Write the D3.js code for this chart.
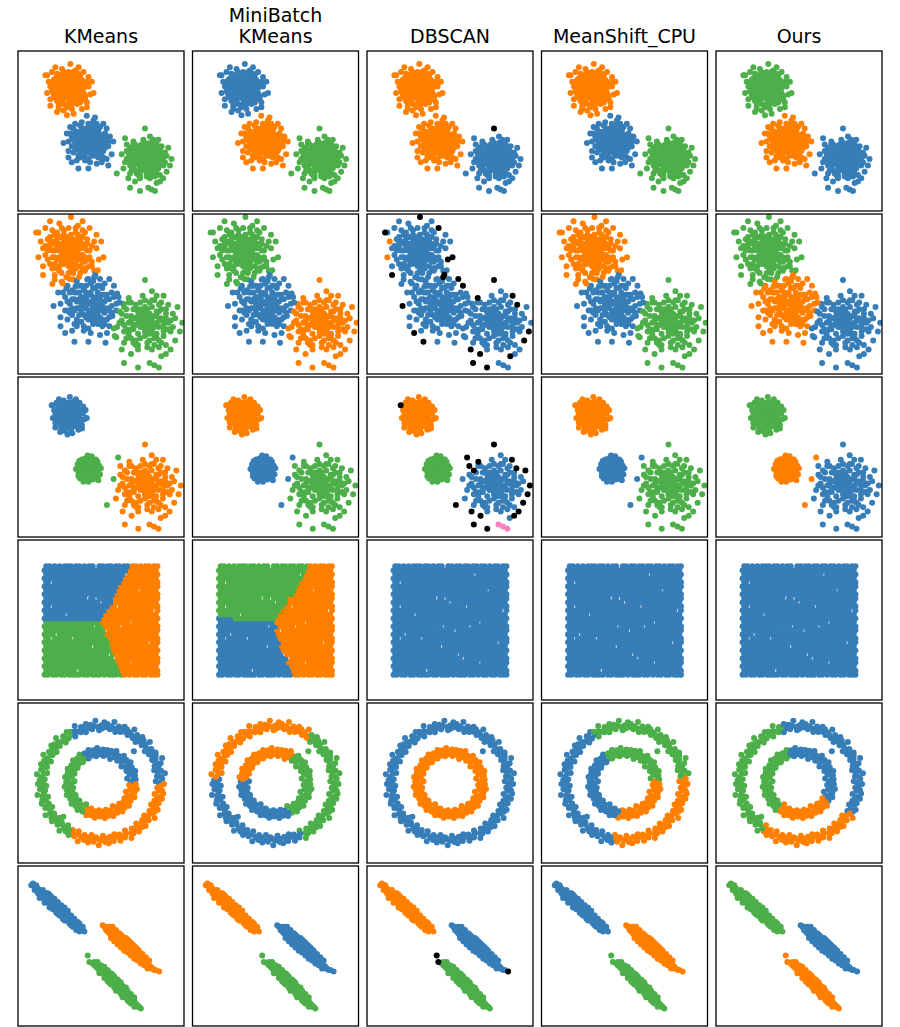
<!DOCTYPE html>
<html>
<head>
<meta charset="utf-8">
<style>
  body { margin: 0; background: #fff; }
  .title { font-family: "DejaVu Sans", sans-serif; font-size: 19px; fill: #000; }
  .frame { fill: none; stroke: #000; stroke-width: 1.3; }
</style>
</head>
<body>
<svg width="900" height="1027"></svg>
<script src="https://cdn.jsdelivr.net/npm/d3@7"></script>
<script>
// colours used by the clusterings
var palette = {b: "#377eb8", o: "#ff7f00", g: "#4daf4a", p: "#f781bf", k: "#000000"};

var titles = [["KMeans"], ["MiniBatch", "KMeans"], ["DBSCAN"], ["MeanShift_CPU"], ["Ours"]];

// three gaussian blobs (rows 1-3 share the centres, spread changes per row)
var blobCentres = [[30.5, 75.8], [42.4, 42.5], [76.5, 33.5]];
var blobScale = [[1, 1, 1], [1.4, 1.4, 1.4], [0.73, 0.5, 1.35]];

// offsets from the blob centre; optional string = DBSCAN label in row 1/2/3
var blobA = [
  [0,0],[2,1],[-2,2],[1,-3],[-3,-1],[4,3],[-4,4],[3,-5],[-1,5],[5,-1],[-5,-3],[0,-6],[6,2],[-6,1],[2,6],[-2,-5],[4,-3],[-4,-6],[1,3],[-1,-2],[3,0],[-3,3],[5,5],[-5,6],[0,3],
  [1,-1],[-1,1],[2,-2],[-2,-1],[3,2],[-3,-4],[1,5],[4,-1],[-4,1],[2,3],
  [1,2],[-1,4],[3,-1],[-2,-3],[2,-4],[-3,0],[4,1],[-4,-2],[0,-4],[1,-5],[-2,5],[3,4],[-5,2],[5,-3],[-1,-4],[2,5],[-4,-3],[6,-1],[-6,-2],[0,7],[-6,4],[6,4],[3,-7],[-3,7],[7,2],[-7,1],[1,-8],[-1,7],[5,-6],[-5,-6],[8,-3],[-8,2],[4,6],[-4,7],[7,-2],[-7,5],[2,-7],[-2,8],[6,-4],[-6,-5],[9,1],[-9,-3],[5,7],[-5,-7],[8,4],[-8,7],[3,11],[-3,11],[10,-6],[-10,3],[11,5],[-11,2],[0,11],[-1,-11],[6,10],[-6,-10],
  [7,-4],[-7,-2],[8,1],[-8,4],[6,7],[-6,8],[3,9],[-3,-9],[7,-8],[-7,-7],[9,-2],[-9,1],[2,-9],[-2,10],[8,6],[-8,-5],[5,-9],[-5,9],[10,3],[-10,-1],[1,8],[4,8],[-4,-8],[9,-6],[-9,6],[6,-7],[0,-9],[7,9],[-7,10],[10,-4],
  [12,2],[-12,5,".o."],[11,-8],[-11,-6],[4,12],[-4,13],[2,-12],[-3,-13],[13,-3,".k."],[-13,9],[9,11,".k."],[-10,11],[12,8],[-11,-10,".k."],[8,-12],[-6,-12],[15,-2,".k."],[-14,9,".kk"],[1,16,".k."],[-1,-16],[6,14],[-8,14],[14,5],[11,-11,".k."],[-13,-2,".o."],[3,-15],[-7,-14]
];
var blobB = [
  [1,1],[-1,-1],[3,-2],[-3,1],[2,4],[-2,-4],[5,1],[-5,-1],[0,5],[0,-3],[4,4],[-4,3],[3,-5],[-4,-4],[6,-2],[-6,3],[1,-6],[-1,6],[2,-1],[-2,2],[4,-1],[-3,-2],[6,5],[-5,6],[5,-5],[0,1],[2,2],[-1,3],[1,-2],[-2,0],
  [0,2],[2,0],[-2,1],[1,-4],[-1,-5],[3,3],[-3,4],[4,-3],[-4,-1],[3,1],[-1,4],[2,-3],[-3,-3],[5,3],[-5,2],[0,-6],[1,6],[6,0],[-6,-2],[4,6],[-4,6],[5,-7],[-5,-6],[7,2],[-7,3],[2,-8],[-2,7],[7,-3],[-7,-1],[3,-6],[-3,-7],[8,5],[-8,-3],[6,-6],[-6,6],[9,-2],[-9,2],[4,9],[-4,9],[2,11],[-2,-11],[10,-3],[-10,-2],[11,4],[-11,6],[7,10],[-7,-11],[9,-9],[-9,9],[12,1],[-12,1],[5,12],[-5,11],[0,12],[1,-12],
  [8,-1],[-8,1],[7,5],[-7,-4],[2,8],[-3,9],[4,-8],[-2,-9],[9,3],[-9,-2],[8,-6],[-7,7],[6,8],[-6,-8],[10,0],[-10,4],[1,10],[0,-10],[9,-5],[-8,6],[5,9],[-5,-9],[7,-8],[10,6],[-9,-6],[3,8],[-4,-7],[8,3],[-1,9],[6,-9],
  [12,-2],[-11,10],[-15,0,".k."],[13,4],[-12,-5],[3,14,".k."],[-1,17],[-6,-16,".k."],[0,-16],[12,-14],[11,9,".k."],[-10,-12,".k."],[14,-7],[-13,6],[5,-13],[-4,13],[9,12,".k."],[8,-12],[-8,12],[15,1],[-12,-9],[11,-10],[4,16]
];
var blobC = [
  [0,0],[2,-1],[-2,1],[1,3],[-1,-3],[4,2],[-4,-2],[3,-4],[-3,4],[5,-1],[-5,1],[0,-5],[1,5],[5,4],[-5,-4],[3,1],[-2,-2],[4,-6],[-4,5],[6,0],[-6,0],[2,-6],[-1,4],[0,2],[2,3],[1,-2],[-3,-1],[3,-2],[-2,3],[0,-3],
  [1,1],[-1,-1],[2,2],[-2,-3],[3,-1],[-3,2],[1,-4],[-1,3],[4,-3],[-4,1],[5,2],[-5,-2],[2,-5],[-2,5],[6,-3],[-6,2],[3,6],[-3,-6],[0,6],[0,-7],[7,1],[-7,-1],[5,-6],[-5,5],[6,4],[-6,-4],[4,-8],[-4,7],[8,-1],[-8,-4],[2,8],[-2,-8],[8,-5],[-8,5],[6,-9],[-6,-8],[9,3],[-9,-5],[4,9],[-4,-11],[10,-1],[-10,0],[1,-12],[-1,11],[11,-5],[-11,4],[7,8],[-7,8],[9,-11],[-9,-10],[12,-3],[-12,-3],[3,-13],[-3,-13],[13,1],[5,11],
  [8,-3],[-8,2],[7,5],[-7,-6],[3,9],[-2,8],[5,-8],[-4,-9],[9,1],[-9,-2],[8,-7],[-6,8],[6,7],[7,-10],[10,-4],[-10,3],[1,-10],[0,9],[-8,-8],[9,5],[-9,6,"..k"],[4,-11],[-3,-11],[11,0],[-11,-1],[6,-12],[-7,10,".kk"],[10,7,".kk"],[2,-9],[-5,-10],
  [0,18,"kkk"],[-17,-10,"..k"],[-9,-19,".kk"],[-3,-21,".kk"],[4,-20,"..p"],[2,-19,"..p"],[6,-21,"..p"],[15,-5,".kk"],[-12,12,"..k"],[13,-9,".kk"],[-13,-7],[12,3],[14,6,"..k"],[8,11,".kk"],[-11,8,"..k"],[9,-15,"..k"],[-14,2],[11,-13,"..k"],[-6,-15,".kk"],[16,-1,"..k"],[3,13],[-10,-13,".kk"],[7,-16,".k."]
];

// uniform square: [y, [x ...]]
var squareRows = [
  [15.8, [16,18,21,23,26,28,31,33,35,37,40,42,45,47,49,52,55,57,59,62,64,67,70,72,75,77,80,82,84]],
  [18.3, [17,19,22,24,27,30,32,34,38,41,43,46,48,51,53,56,58,61,63,66,68,71,73,76,79,81,84]],
  [21.1, [16,19,21,24,26,29,31,33,36,39,41,44,46,49,52,54,57,60,62,65,67,69,72,74,77,80,83]],
  [23.4, [17,20,22,25,28,30,32,35,37,40,43,45,48,50,53,55,58,59,61,64,66,70,73,75,78,81,84]],
  [26.0, [16,18,20,23,26,29,31,34,36,38,41,44,47,49,51,54,56,60,63,65,68,71,74,76,79,82,84]],
  [28.6, [17,19,22,25,27,30,33,35,38,40,42,45,48,50,53,57,59,62,64,67,69,72,75,78,80,83]],
  [31.0, [16,18,21,24,26,28,31,34,37,39,42,44,46,49,52,55,58,60,61,64,66,69,71,73,76,79,81,84]],
  [33.4, [17,20,23,25,28,30,33,36,38,41,43,47,50,52,54,57,59,62,65,67,70,73,75,78,80,83]],
  [36.1, [16,19,21,23,26,29,32,34,36,39,42,45,47,49,52,55,57,60,63,65,68,70,72,75,77,81,84]],
  [38.5, [17,18,22,24,27,30,31,35,38,40,43,45,48,51,53,56,58,61,64,66,69,72,74,76,79,82,84]],
  [41.0, [16,19,21,25,28,29,32,34,37,40,42,44,47,50,52,54,57,59,62,65,67,70,73,75,78,80,83]],
  [43.6, [17,20,23,26,27,30,33,36,39,41,43,46,49,51,55,56,59,61,63,66,69,72,74,77,80,82,84]],
  [45.9, [16,18,21,24,26,29,31,34,37,38,41,44,48,50,53,55,58,60,64,67,68,71,73,76,79,81,84]],
  [48.4, [17,20,22,25,28,31,33,35,38,41,43,46,48,51,54,57,59,62,64,66,70,72,75,77,80,83]],
  [51.0, [16,18,21,23,26,28,30,33,36,39,42,44,47,49,52,55,57,60,62,65,68,71,74,76,79,81,84]],
  [53.5, [17,20,22,25,27,31,34,36,38,40,43,46,48,51,53,56,59,61,64,67,69,72,75,78,80,83]],
  [55.9, [16,19,21,24,26,29,32,34,37,39,42,45,47,50,52,55,58,60,63,65,67,70,73,75,77,80,84]],
  [58.6, [17,18,22,24,27,30,33,35,38,41,44,46,49,51,54,57,58,62,64,67,69,71,74,76,79,82,84]],
  [61.0, [16,19,21,23,26,28,31,34,36,39,42,43,46,48,52,54,56,59,61,63,66,69,72,75,78,80,83]],
  [63.4, [17,20,23,25,28,30,32,35,37,40,44,45,49,51,53,56,59,62,64,67,70,72,74,77,79,82,84]],
  [66.1, [16,18,21,24,27,29,31,34,37,39,41,44,47,49,52,55,57,60,63,65,68,70,73,76,78,81,84]],
  [68.5, [17,20,22,25,27,30,33,36,38,40,43,46,48,51,54,56,59,61,64,66,69,71,75,77,80,83]],
  [71.0, [16,19,21,24,26,28,31,34,36,39,42,44,47,50,52,54,57,60,62,65,67,70,73,75,78,81,84]],
  [73.6, [17,18,22,25,28,30,33,35,37,40,43,46,48,51,53,56,58,61,64,66,69,72,74,77,79,82,84]],
  [75.9, [16,19,21,23,26,29,32,34,37,39,41,44,46,49,52,55,57,59,62,65,68,70,73,76,78,80,83]],
  [78.4, [17,20,22,25,27,30,33,36,38,41,43,45,48,51,53,56,58,61,63,67,69,72,74,77,80,82,84]],
  [81.0, [16,18,21,24,26,29,31,34,37,39,42,44,47,50,52,54,57,60,62,65,68,70,72,75,78,81,83]],
  [83.6, [17,19,22,25,28,30,32,35,37,40,43,45,49,51,54,56,59,61,64,66,69,71,74,77,79,82,84]]
];

// two noisy circles: [angle in degrees clockwise from top, radius]
var ringCentre = [50, 50];
var outerRing = [
  [0,36],[1,34],[3,38],[5,35],[6,37],[9,34],[10,36],[12,39],[14,35],[15,33],[17,37],[19,36],[20,34],[22,38],[24,35],[25,37],[28,34],[29,36],[31,39],[32,35],[34,34],[36,37],[38,36],[39,33],[41,38],[43,35],[45,28],[44,37],[46,34],[48,36],[49,39],[51,35],[53,33],[55,37],[56,36],[58,34],[60,38],[61,35],[63,37],[65,34],[67,40],[66,36],[69,35],[71,38],[72,34],[74,36],[76,33],[78,37],[79,35],[81,39],[83,34],[84,36],[86,37],[88,33],[90,35],[91,38],[93,36],[95,34],[97,37],[98,35],[100,38],[102,33],[104,36],[105,38],[107,35],[109,34],[110,37],[112,36],[114,33],[116,38],[117,35],[119,37],[121,34],[122,36],[124,39],[126,35],[128,33],[129,37],[131,36],[133,34],[135,38],[136,35],[138,37],[140,33],[141,36],[143,38],[145,35],[147,34],[148,37],[150,36],[152,39],[154,33],[155,35],[157,37],[159,36],[161,34],[162,38],[164,35],[166,33],[168,37],[169,36],[171,34],[173,38],[175,35],[176,37],[178,33],[180,36],[182,39],[183,35],[185,34],[187,37],[189,36],[190,33],[192,38],[194,35],[196,37],[197,34],[199,36],[201,39],[203,35],[204,33],[206,37],[208,36],[210,34],[211,38],[213,35],[215,37],[217,33],[218,36],[220,39],[222,35],[224,34],[225,37],[227,31],[227,36],[229,33],[231,38],[232,35],[234,37],[236,34],[238,36],[239,39],[241,35],[243,33],[245,37],[246,36],[248,34],[250,38],[252,35],[253,37],[255,33],[257,36],[259,39],[260,35],[262,34],[264,37],[266,36],[267,33],[269,38],[271,35],[273,37],[274,34],[276,36],[278,39],[280,35],[281,33],[283,37],[285,36],[287,34],[288,38],[290,35],[292,37],[294,33],[295,36],[297,39],[299,35],[301,34],[302,37],[304,36],[306,33],[308,38],[309,35],[311,37],[313,34],[315,36],[316,39],[318,35],[320,33],[322,37],[323,36],[325,34],[327,38],[329,35],[330,37],[332,33],[334,36],[336,39],[337,35],[339,34],[341,37],[343,36],[344,33],[346,38],[348,35],[350,37],[351,34],[353,36],[355,39],[357,35],[358,33]
];
var innerRing = [
  [0,19],[3,21],[5,17],[8,20],[10,21],[12,18],[15,19],[17,21],[20,16],[22,20],[25,22],[27,18],[29,19],[32,20],[35,17],[37,20],[39,22],[42,18],[44,19],[47,21],[50,16],[52,20],[54,22],[57,18],[60,19],[62,21],[64,17],[67,20],[70,22],[72,18],[74,19],[77,21],[80,16],[82,20],[84,21],[87,18],[90,19],[92,21],[94,17],[97,20],[100,22],[102,18],[104,19],[107,21],[110,16],[112,20],[114,22],[117,18],[120,19],[122,21],[124,17],[127,20],[130,22],[132,18],[134,19],[137,21],[140,17],[142,20],[144,22],[147,18],[150,19],[152,21],[154,16],[157,20],[160,22],[162,18],[164,19],[167,21],[170,17],[172,20],[174,22],[177,18],[180,19],[182,21],[184,17],[187,20],[190,22],[192,18],[194,19],[197,21],[200,17],[202,20],[204,22],[207,18],[210,19],[212,21],[214,16],[217,20],[220,22],[222,18],[224,19],[227,21],[230,17],[232,20],[234,22],[237,18],[240,19],[242,21],[244,17],[247,20],[250,22],[252,18],[254,19],[257,21],[260,17],[262,20],[264,22],[267,18],[270,19],[272,21],[274,16],[277,20],[280,22],[282,18],[284,19],[287,21],[290,17],[292,20],[294,22],[297,18],[300,19],[302,21],[304,17],[307,20],[310,22],[312,18],[314,19],[317,21],[320,17],[322,20],[324,22],[327,18],[330,19],[332,21],[334,17],[337,20],[340,22],[342,18],[344,19],[347,21],[350,17],[352,20],[354,22],[357,18]
];

// three stretched clusters; "k" = DBSCAN noise
var anisoTop = [
  [8,88],[9,89],[10,87],[10,85],[11,86],[12,86],[12,83],[13,85],[13,82],[14,84],[14,81],[15,83],[15,80],[16,82],[16,79],[17,81],[17,78],[17,83],[18,80],[18,77],[19,79],[19,82],[19,76],[20,78],[20,80],[21,77],[21,75],[21,79],[22,76],[22,74],[22,78],[23,75],[23,73],[23,77],[24,74],[24,72],[24,76],[25,73],[25,71],[25,75],[26,72],[26,70],[26,74],[27,71],[27,69],[27,73],[28,70],[28,68],[28,72],[29,69],[29,71],[30,68],[30,66],[30,70],[31,67],[31,69],[32,66],[32,65],[33,65],[33,67],[34,64],[34,63],[35,64],[35,62],[36,63],[36,61],[37,62],[38,61],[38,60],[39,60],[40,59],
  [11,88],[13,80],[15,85],[16,77],[18,83],[19,74],[20,81],[21,73],[22,79.5],[23,71],[24,77.5],[25,69],[26,75.5],[27,67],[28,74],[29,66],[30,72],[31,64],[32,69],[33,62],[34,67],[35,60],[36,65],[37,59],[37,64],[39,62],[20,75],[24,70],[28,66],[32,63]
];
var anisoRight = [
  [51,63],[52,62],[53,62],[53,60],[54,61],[54,59],[55,60],[55,58],[56,59],[56,57],[57,60],[57,58],[57,56],[58,57],[58,55],[58,59],[59,56],[59,54],[59,58],[60,55],[60,57],[60,53],[61,54],[61,56],[61,52],[62,53],[62,55],[62,51],[63,52],[63,54],[63,50],[64,51],[64,53],[64,49],[65,50],[65,52],[65,48],[66,50],[66,48],[66,52],[67,49],[67,47],[67,51],[68,48],[68,46],[68,50],[69,47],[69,45],[69,49],[70,46],[70,44],[70,48],[71,45],[71,43],[71,47],[72,44],[72,42],[72,46],[73,44],[73,42],[74,43],[74,41],[75,42],[75,40],[76,41],[76,39],[77,40],[77,38],[78,39],[78,37],[79,38],[80,37],[80,36],[81,36],[82,35],[83,35],[85,34,"k"],
  [55,62],[56,55],[57,62],[58,53],[59,60],[60,51],[61,58],[62,49],[63,56],[64,47],[65,55],[66,46],[67,53],[68,44],[69,51],[70,42],[71,49],[72,41],[73,47],[74,39],[75,45],[76,38],[77,43],[78,36],[79,41],[62,57],[66,54],[70,50],[64,55],[68,52],[72,48],[60,52]
];
var anisoBottom = [
  [42,44,"k"],[43,40,"k"],[45,39],[46,38],[46,40],[47,37],[47,39],[48,36],[48,38],[49,37],[49,35],[50,36],[50,34],[51,35],[51,33],[51,37],[52,34],[52,32],[53,33],[53,31],[53,35],[54,32],[54,30],[54,34],[55,31],[55,29],[55,33],[56,30],[56,28],[56,32],[57,29],[57,27],[57,31],[58,28],[58,26],[58,30],[59,27],[59,25],[59,29],[60,26],[60,24],[60,28],[61,25],[61,23],[61,27],[62,24],[62,22],[62,26],[63,23],[63,21],[63,25],[64,22],[64,20],[65,21],[65,19],[65,23],[66,20],[66,18],[67,19],[67,17],[68,18],[68,16],[69,17],[69,15],[70,16],[70,14],[71,14],[71,13],[72,13],[72,12],[73,12],[74,11],
  [48,40],[49,33],[50,38],[52,30],[52,37],[54,28],[54,35],[56,26],[56,33],[58,24],[58,31],[60,22],[60,29],[62,20],[62,27],[64,18],[64,24],[66,16],[66,22],[68,14],[68,20],[70,12],[70,18],[55,27],[57,32],[59,22],[61,28],[63,18],[65,24],[67,15]
];

// colour per panel: string = colour per group (or per nearest blob centre),
// array = nearest centroid [x, y, colour]
var panelColours = [
  ["obg", "bog", "oob", "obg", "gob"],
  ["obg", "gbo", "bbb", "obg", "gob"],
  ["bgo", "obg", "ogb", "obg", "gob"],
  [[[34.5,68,"b"],[34.5,32,"g"],[73.5,46.2,"o"]], [[35,68,"g"],[31.4,32,"b"],[73.7,44.5,"o"]], "b", "b", "b"],
  [[[60,67.3,"b"],[59.7,32.5,"o"],[30,50.3,"g"]], [[41.5,68.1,"o"],[69.9,48.3,"g"],[38.5,33.6,"b"]], "bo",
   [[63.4,64.9,"g"],[65.8,37.7,"o"],[30.6,45.2,"b"]], [[68.5,57.5,"b"],[51.4,30,"o"],[30.3,46.5,"g"]]],
  ["bog", "obg", "obg", "bog", "gbo"]
];

var DBSCAN_COL = 2;

function rowPoints(r) {
  var pts = [];
  if (r < 3) {
    [blobA, blobB, blobC].forEach(function(blob, g) {
      var c = blobCentres[g], s = blobScale[r][g];
      blob.forEach(function(d) {
        pts.push({x: c[0] + s * d[0], y: c[1] + s * d[1], group: g, flag: d[2] ? d[2][r] : "."});
      });
    });
  } else if (r === 3) {
    squareRows.forEach(function(row) {
      row[1].forEach(function(x) { pts.push({x: x, y: row[0], group: 0, flag: "."}); });
    });
  } else if (r === 4) {
    [outerRing, innerRing].forEach(function(ring, g) {
      ring.forEach(function(d) {
        var p = d3.pointRadial(d[0] * Math.PI / 180, d[1]);
        pts.push({x: ringCentre[0] + p[0], y: ringCentre[1] - p[1], group: g, flag: "."});
      });
    });
  } else {
    [anisoTop, anisoRight, anisoBottom].forEach(function(cl, g) {
      cl.forEach(function(d) { pts.push({x: d[0], y: d[1], group: g, flag: d[2] || "."}); });
    });
  }
  return pts;
}

function colourOf(p, r, c) {
  if (c === DBSCAN_COL && p.flag !== ".") return palette[p.flag];
  var spec = panelColours[r][c];
  var dist = function(s) { return (s[0] - p.x) * (s[0] - p.x) + (s[1] - p.y) * (s[1] - p.y); };
  if (Array.isArray(spec)) return palette[spec[d3.leastIndex(spec, dist)][2]];
  if (r < 3 && c !== DBSCAN_COL) return palette[spec[d3.leastIndex(blobCentres, dist)]];
  return palette[spec[Math.min(p.group, spec.length - 1)]];
}

var svg = d3.select("svg");

var col = d3.scaleBand().domain(d3.range(5)).range([18, 882]).paddingInner(0.0487);
var row = d3.scaleBand().domain(d3.range(6)).range([51, 1026]).paddingInner(0.0184);

var x = d3.scaleLinear().domain([0, 100]).range([0, col.bandwidth()]);
var y = d3.scaleLinear().domain([0, 100]).range([row.bandwidth(), 0]);

// titles
titles.forEach(function(lines, c) {
  var t = svg.append("text")
    .attr("class", "title")
    .attr("text-anchor", "middle")
    .attr("x", col(c) + col.bandwidth() / 2);
  lines.forEach(function(line, i) {
    t.append("tspan")
      .attr("x", col(c) + col.bandwidth() / 2)
      .attr("y", 43 - (lines.length - 1 - i) * 21.5)
      .text(line);
  });
});

svg.append("defs").append("clipPath").attr("id", "clip")
  .append("rect").attr("width", col.bandwidth()).attr("height", row.bandwidth());

d3.range(6).forEach(function(r) {
  var pts = rowPoints(r);
  d3.range(5).forEach(function(c) {
    var g = svg.append("g")
      .attr("transform", "translate(" + col(c) + "," + row(r) + ")");

    var data = pts.map(function(p) { return {x: p.x, y: p.y, fill: colourOf(p, r, c), top: c === DBSCAN_COL && p.flag !== "."}; });
    data.sort(function(a, b) { return a.top - b.top; });

    g.append("g").attr("clip-path", "url(#clip)")
      .selectAll("circle")
      .data(data)
      .enter()
      .append("circle")
      .attr("cx", function(d) { return x(d.x); })
      .attr("cy", function(d) { return y(d.y); })
      .attr("r", 3)
      .attr("fill", function(d) { return d.fill; });

    g.append("rect")
      .attr("class", "frame")
      .attr("width", col.bandwidth())
      .attr("height", row.bandwidth());
  });
});
</script>
</body>
</html>
